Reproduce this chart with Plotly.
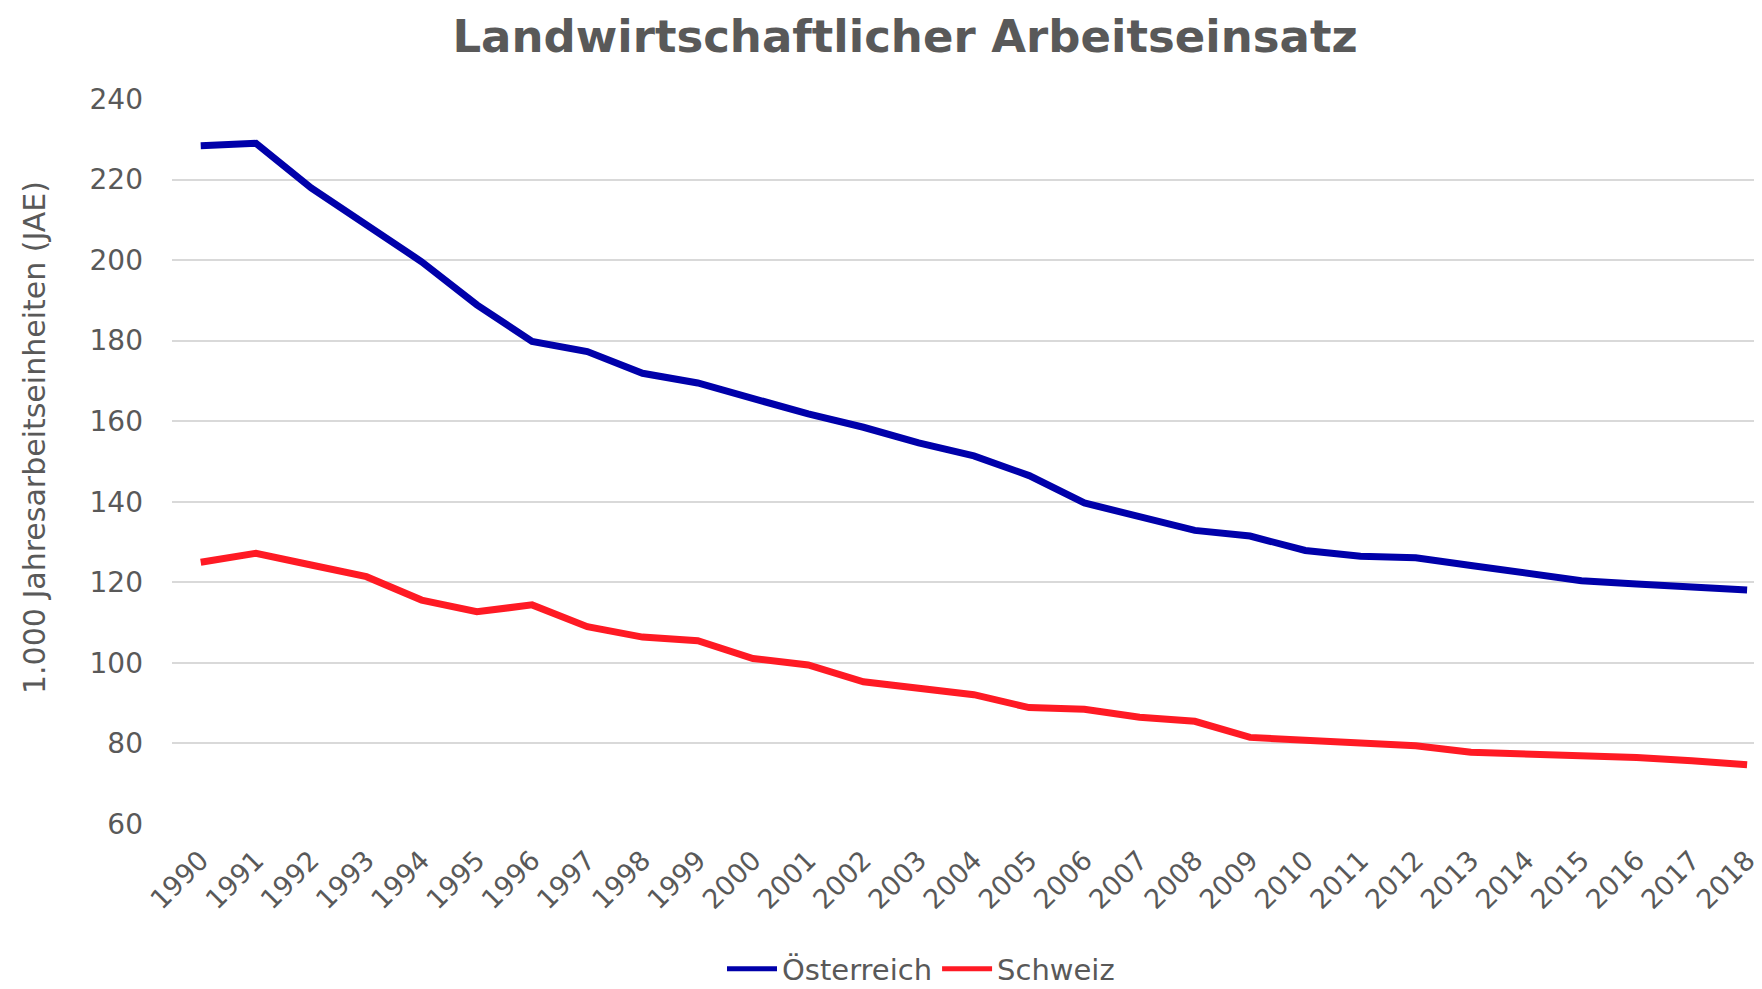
import plotly.graph_objects as go

years = [str(y) for y in range(1990, 2019)]
oesterreich = [228.4, 229.0, 217.9, 208.7, 199.6, 188.9, 179.8, 177.3, 171.9, 169.5,
               165.6, 161.8, 158.5, 154.6, 151.4, 146.5, 139.7, 136.3, 132.9, 131.5,
               127.9, 126.5, 126.1, 124.2, 122.3, 120.4, 119.6, 118.8, 118.1]
schweiz = [125.0, 127.2, 124.3, 121.4, 115.6, 112.7, 114.4, 109.0, 106.4, 105.5,
           101.1, 99.5, 95.3, 93.5, 92.1, 88.9, 88.5, 86.5, 85.5, 81.5,
           80.9, 80.1, 79.4, 77.8, 77.4, 77.0, 76.5, 75.7, 74.7]
series_names = ["Österreich", "Schweiz"]
y_ticks = [60, 80, 100, 120, 140, 160, 180, 200, 220, 240]

FONT = "DejaVu Sans, sans-serif"
GRAY = "#595959"

# page body has an 8px default margin; figure is sized to fit the 1762x989 window
W, H = 1754, 981
L, T, B = 164, 91, 165

fig = go.Figure()
fig.add_trace(go.Scatter(x=list(range(len(years))), y=oesterreich, name=series_names[0],
                         mode="lines", line=dict(color="#0000AA", width=7)))
fig.add_trace(go.Scatter(x=list(range(len(years))), y=schweiz, name=series_names[1],
                         mode="lines", line=dict(color="#FF1A24", width=7)))

fig.update_layout(
    width=W, height=H,
    paper_bgcolor="white", plot_bgcolor="white",
    margin=dict(l=L, r=0, t=T, b=B, autoexpand=False),
    title=dict(text="<b>Landwirtschaftlicher Arbeitseinsatz</b>", x=897 / W, xanchor="center",
               xref="container", y=1 - 28 / H, yanchor="middle", yref="container",
               font=dict(family=FONT, size=45, color=GRAY)),
    font=dict(family=FONT, color=GRAY),
    showlegend=True,
    legend=dict(orientation="h", x=913 / W, xanchor="center", xref="container",
                y=20 / H, yanchor="middle", yref="container", itemwidth=50,
                font=dict(family=FONT, size=29, color=GRAY),
                tracegroupgap=0, itemsizing="constant"),
    annotations=[dict(text="1.000 Jahresarbeitseinheiten (JAE)", textangle=-90,
                      xref="paper", yref="paper",
                      x=(26 - L) / (W - L), y=(H - B - 430) / (H - B - T),
                      xanchor="center", yanchor="middle", showarrow=False,
                      font=dict(family=FONT, size=30, color=GRAY))],
)
fig.update_xaxes(
    tickmode="array", tickvals=list(range(len(years))), ticktext=years,
    range=[-0.52, 28.27], tickangle=-45, showgrid=False, zeroline=False,
    showline=False, ticks="", ticklabelstandoff=14, automargin=False,
    tickfont=dict(family=FONT, size=27, color=GRAY),
)
fig.update_yaxes(
    range=[60, 240], tickvals=y_ticks, showgrid=True, gridcolor="#D9D9D9", gridwidth=2,
    zeroline=False, showline=False, ticks="", ticklabelstandoff=28, automargin=False,
    tickfont=dict(family=FONT, size=28, color=GRAY),
)

fig.write_html("out.html")
